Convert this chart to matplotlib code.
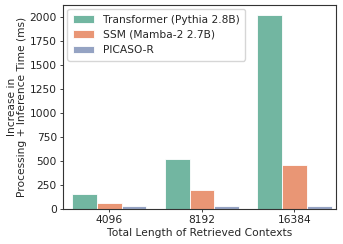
import matplotlib
matplotlib.use("Agg")
import matplotlib.pyplot as plt
import seaborn as sns
import pandas as pd

# retrieved context lengths and latency increase (ms)
lengths = ["4096", "8192", "16384"]
models = ["Transformer (Pythia 2.8B)", "SSM (Mamba-2 2.7B)", "PICASO-R"]
transformer_ms = [157, 519, 2028]
ssm_ms = [63, 192, 453]
picaso_ms = [24, 24, 24]

rows = []
for name, vals in zip(models, [transformer_ms, ssm_ms, picaso_ms]):
    for length, v in zip(lengths, vals):
        rows.append({"Length": length, "Model": name, "Time": v})
df = pd.DataFrame(rows)

sns.set_style("ticks")
plt.rcParams['font.family'] = ['DejaVu Sans']
fs = 7.7

fig, ax = plt.subplots(figsize=(3.43, 2.44), dpi=100)
sns.barplot(data=df, x="Length", y="Time", hue="Model", palette="Set2",
            saturation=0.75, edgecolor="white", linewidth=0.6, ax=ax)

ax.set_xlim(-0.5, 2.45)
ax.set_ylim(0, 2130)
ax.set_yticks([0, 250, 500, 750, 1000, 1250, 1500, 1750, 2000])
ax.tick_params(labelsize=fs, length=2.5, width=0.6, colors="#222222", pad=2)
for s in ax.spines.values():
    s.set_visible(True)
    s.set_color("#333333")
    s.set_linewidth(0.8)

ax.set_xlabel("Total Length of Retrieved Contexts", fontsize=fs, labelpad=2.5)
ax.set_ylabel("Increase in\nProcessing + Inference Time (ms)", fontsize=fs,
              labelpad=2, linespacing=1.0)

leg = ax.legend(loc="upper left", fontsize=7.7, frameon=True, handlelength=2.0,
                handletextpad=0.8, borderpad=0.5, labelspacing=0.5,
                borderaxespad=0.4)
leg.set_title(None)

fig.subplots_adjust(left=0.184, right=0.98, top=0.98, bottom=0.145)
fig.savefig("out.png", dpi=100)
